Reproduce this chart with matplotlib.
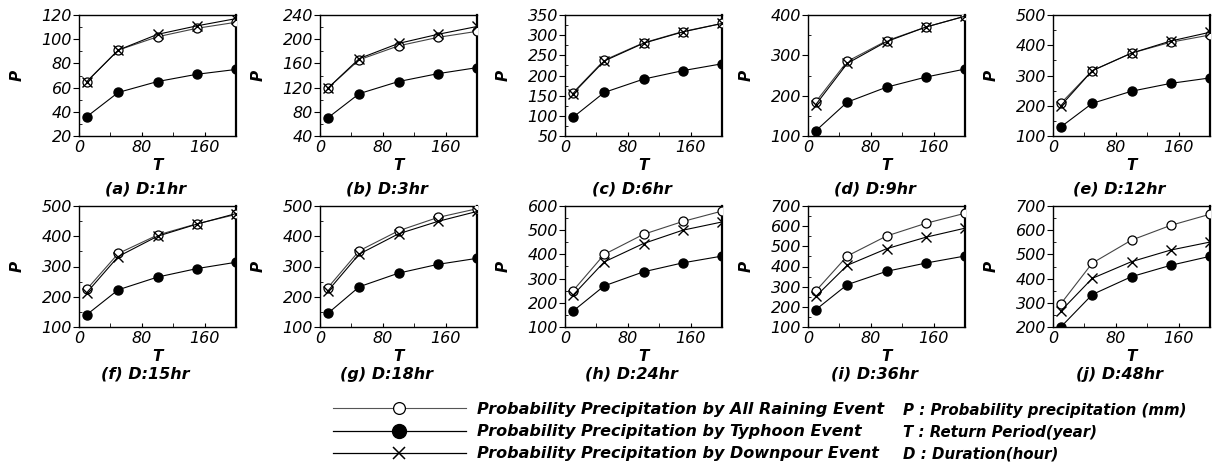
import numpy as np
import matplotlib.pyplot as plt
from matplotlib.ticker import MultipleLocator, AutoMinorLocator
from matplotlib.lines import Line2D

plt.rcParams['font.family'] = ['DejaVu Sans']

# return periods (years)
T = [10, 50, 100, 150, 200]

durations = ['1hr', '3hr', '6hr', '9hr', '12hr', '15hr', '18hr', '24hr', '36hr', '48hr']
letters = ['a', 'b', 'c', 'd', 'e', 'f', 'g', 'h', 'i', 'j']

# probability precipitation (mm) per duration
all_rain = [
    [65, 91, 102, 109, 114],
    [119, 166, 189, 203, 213],
    [157, 238, 281, 309, 329],
    [185, 285, 336, 370, 397],
    [208, 316, 374, 410, 434],
    [225, 343, 404, 441, 472],
    [230, 352, 418, 462, 491],
    [249, 400, 483, 536, 579],
    [279, 452, 551, 614, 664],
    [296, 464, 559, 620, 666],
]
typhoon = [
    [36, 56, 65, 71, 75],
    [70, 110, 130, 143, 153],
    [96, 158, 191, 212, 229],
    [113, 184, 221, 246, 266],
    [130, 208, 248, 274, 292],
    [141, 223, 265, 293, 314],
    [145, 233, 278, 307, 327],
    [165, 270, 328, 365, 393],
    [186, 310, 376, 417, 452],
    [200, 334, 408, 455, 492],
]
downpour = [
    [65, 91, 104, 111, 117],
    [119, 168, 193, 208, 221],
    [155, 236, 280, 308, 329],
    [178, 280, 334, 370, 397],
    [200, 316, 374, 414, 443],
    [214, 333, 400, 440, 475],
    [219, 341, 408, 449, 482],
    [231, 369, 445, 500, 534],
    [252, 406, 488, 545, 590],
    [266, 401, 470, 518, 551],
]

y_lims = [(20, 120), (40, 240), (50, 350), (100, 400), (100, 500),
          (100, 500), (100, 500), (100, 600), (100, 700), (200, 700)]
y_steps = [20, 40, 50, 100, 100, 100, 100, 100, 100, 100]

W, H = 1219, 466
fig = plt.figure(figsize=(W / 100, H / 100), dpi=100)

lefts = [79, 320, 565, 808, 1053]
tops = [15, 206]
title_gap = [53, 47]
aw, ah = 157, 121

for i in range(10):
    r, c = divmod(i, 5)
    ax = fig.add_axes([lefts[c] / W, 1 - (tops[r] + ah) / H, aw / W, ah / H])
    ax.plot(T, all_rain[i], '-', color='#444444', lw=0.8, marker='o',
            ms=6.5, mfc='white', mec='black', mew=0.9, zorder=3)
    ax.plot(T, downpour[i], '-', color='black', lw=0.8, marker='x',
            ms=6.5, mec='black', mew=1.0, zorder=4)
    ax.plot(T, typhoon[i], '-', color='black', lw=0.8, marker='o',
            ms=6.5, mfc='black', mec='black', zorder=3)
    ax.set_xlim(0, 200)
    ax.set_ylim(*y_lims[i])
    ax.xaxis.set_major_locator(MultipleLocator(80))
    ax.xaxis.set_minor_locator(MultipleLocator(40))
    ax.yaxis.set_major_locator(MultipleLocator(y_steps[i]))
    ax.yaxis.set_minor_locator(AutoMinorLocator(2))
    ax.tick_params(axis='x', which='both', direction='in', length=3,
                   labelsize=11.5, pad=3)
    ax.tick_params(axis='y', which='major', direction='out', length=4,
                   labelsize=11.5, pad=1)
    ax.tick_params(axis='y', which='minor', direction='in', length=2.5)
    for lab in ax.get_xticklabels() + ax.get_yticklabels():
        lab.set_fontstyle('oblique')
    for s in ax.spines.values():
        s.set_linewidth(1.0)
    ax.spines['right'].set_linewidth(1.6)
    ax.set_xlabel('T', fontsize=11, fontweight='bold', fontstyle='oblique',
                  labelpad=2)
    ax.set_ylabel('P', fontsize=11, fontweight='bold', fontstyle='oblique',
                  labelpad=12)
    cx = (lefts[c] + aw / 2 - 12) / W
    fig.text(cx, 1 - (tops[r] + ah + title_gap[r]) / H,
             f'({letters[i]}) D:{durations[i]}',
             ha='center', va='center', fontsize=11.5, fontweight='bold',
             fontstyle='oblique')

handles = [
    Line2D([], [], color='#555555', lw=0.8, marker='o', ms=8.5, mfc='white',
           mec='black', mew=0.9),
    Line2D([], [], color='black', lw=0.9, marker='o', ms=10, mfc='black',
           mec='black'),
    Line2D([], [], color='black', lw=0.9, marker='x', ms=8.5, mec='black',
           mew=1.1),
]
labels = ['Probability Precipitation by All Raining Event',
          'Probability Precipitation by Typhoon Event',
          'Probability Precipitation by Downpour Event']
fig.legend(handles, labels, loc='upper left',
           bbox_to_anchor=(333 / W, 1 - 402 / H), frameon=False,
           handlelength=8.3, handletextpad=0.7, labelspacing=0.45,
           borderpad=0, borderaxespad=0, numpoints=1,
           prop={'size': 11.5, 'weight': 'bold', 'style': 'oblique'})

notes = ['P : Probability precipitation (mm)',
         'T : Return Period(year)',
         'D : Duration(hour)']
for k, note in enumerate(notes):
    fig.text(903 / W, 1 - (410 + 22 * k) / H, note, ha='left', va='center',
             fontsize=10.8, fontweight='bold', fontstyle='oblique')

fig.savefig('out.png', dpi=100)
